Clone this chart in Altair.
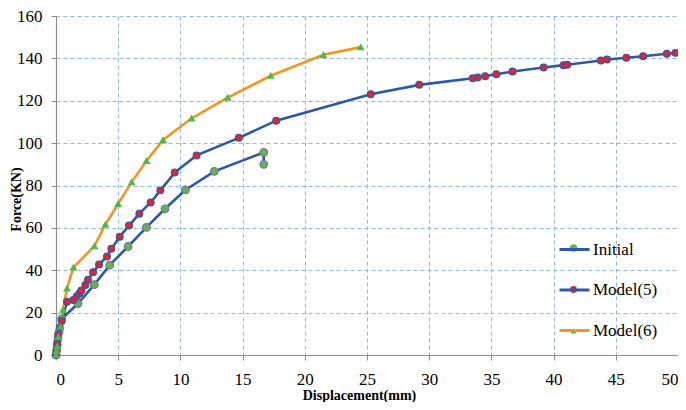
import altair as alt
import pandas as pd

series_names = ["Initial", "Model(5)", "Model(6)"]

init_x = [0, 0.05, 0.1, 0.15, 0.25, 0.45, 1.77, 3.08, 4.32, 5.79, 7.27, 8.76, 10.4, 12.73, 16.7, 16.7]
init_y = [0, 2, 4.5, 7.5, 11, 17, 24.3, 33.2, 42.4, 51.2, 60.2, 69.0, 77.9, 86.7, 95.6, 90.0]

m5_x = [0, 0.05, 0.1, 0.17, 0.3, 0.46, 0.88, 1.40, 1.66, 1.88, 2.04, 2.36, 2.57, 2.98, 3.46, 4.1,
        4.45, 5.12, 5.87, 6.7, 7.61, 8.39, 9.54, 11.3, 14.7, 17.7, 25.3, 29.2, 33.5, 33.9, 34.5,
        35.4, 36.7, 39.2, 40.8, 41.1, 43.8, 44.3, 45.85, 47.2, 49.1, 49.8]
m5_y = [0, 2.5, 5.5, 9.6, 13, 16, 25.1, 26.0, 27.6, 29.0, 30.4, 33.0, 35.5, 39.1, 42.7, 46.5,
        50.1, 55.8, 61.1, 66.7, 72.0, 77.7, 86.1, 94.2, 102.5, 110.6, 123.1, 127.5, 130.6, 131.0, 131.6,
        132.5, 133.8, 135.7, 136.8, 137.0, 139.0, 139.5, 140.3, 141.0, 142.2, 142.6]

m6_x = [0, 0.05, 0.1, 0.19, 0.35, 0.56, 0.88, 1.40, 3.09, 3.97, 4.99, 6.08, 7.27, 8.6, 10.9, 13.8, 17.26, 21.5, 24.5]
m6_y = [0, 2, 4.1, 8.5, 13.4, 21.4, 31.4, 41.3, 51.4, 61.6, 71.3, 81.6, 91.6, 101.5, 111.7, 121.5, 131.8, 141.7, 145.3]

x_ticks = list(range(0, 51, 5))
y_ticks = list(range(0, 161, 20))

rows = []
for name, xs, ys in [(series_names[0], init_x, init_y),
                     (series_names[1], m5_x, m5_y),
                     (series_names[2], m6_x, m6_y)]:
    for i, (a, b) in enumerate(zip(xs, ys)):
        rows.append({"series": name, "series2": name, "idx": i, "x": a, "y": b})
df = pd.DataFrame(rows)

line_col = ["#2b59a8", "#2b59a8", "#f7941d"]
fill_col = ["#62b54b", "#e5232b", "#4fb848"]
stroke_col = ["#7a6db3", "#3557a8", "#4fb848"]
shapes = ["circle", "circle", "triangle-up"]
sizes = [58, 34, 90]

FONT = "Liberation Serif"

xenc = alt.X("x:Q", scale=alt.Scale(domain=[0, 50], nice=False),
             axis=alt.Axis(values=x_ticks, title="Displacement(mm)", titleX=303, titleY=40,
                           titleBaseline="middle", labelPadding=11))
yenc = alt.Y("y:Q", scale=alt.Scale(domain=[0, 160], nice=False),
             axis=alt.Axis(values=y_ticks, title="Force(KN)", titleX=-40, titleY=183,
                           titleBaseline="middle", labelPadding=9))

base = alt.Chart(df)

lines = base.mark_line(strokeWidth=2.6).encode(
    x=xenc, y=yenc,
    stroke=alt.Stroke("series:N", scale=alt.Scale(domain=series_names, range=line_col),
                      legend=alt.Legend(title=None, orient="none", legendX=502, legendY=217,
                                        symbolType="stroke", symbolSize=900, symbolStrokeWidth=3,
                                        rowPadding=15.5, labelFontSize=17, labelFont=FONT,
                                        labelColor="#000", labelOffset=2, padding=0)),
    order="idx:Q",
)

points = base.mark_point(filled=True, strokeWidth=1.2, opacity=1).encode(
    x="x:Q", y="y:Q",
    shape=alt.Shape("series2:N", scale=alt.Scale(domain=series_names, range=shapes),
                    legend=alt.Legend(title=None, orient="none", legendX=509, legendY=223.5,
                                      rowPadding=23.5, labelFontSize=17, labelFont=FONT,
                                      labelExpr="''", padding=0)),
    fill=alt.Fill("series2:N", scale=alt.Scale(domain=series_names, range=fill_col)),
    stroke=alt.Stroke("series2:N", scale=alt.Scale(domain=series_names, range=stroke_col)),
    size=alt.Size("series2:N", scale=alt.Scale(domain=series_names, range=sizes)),
)

chart = alt.layer(lines, points).resolve_scale(
    stroke="independent"
).properties(
    width=622, height=339,
    autosize=alt.AutoSizeParams(type="none"),
    padding={"left": 48, "top": 8, "right": 0, "bottom": 47},
    background="white",
).configure_view(stroke=None).configure_axis(
    domainColor="#8c8c8c", tickColor="#8c8c8c", tickSize=5, domainWidth=1.2,
    labelFont=FONT, labelFontSize=17, labelColor="#000",
    titleFont=FONT, titleFontSize=14, titleFontWeight="bold", titleColor="#000",
    gridColor="#8fb8e3", gridDash=[4, 3], gridWidth=1, grid=True,
)

chart.save("out.html", embed_options={"renderer": "svg", "actions": False})
